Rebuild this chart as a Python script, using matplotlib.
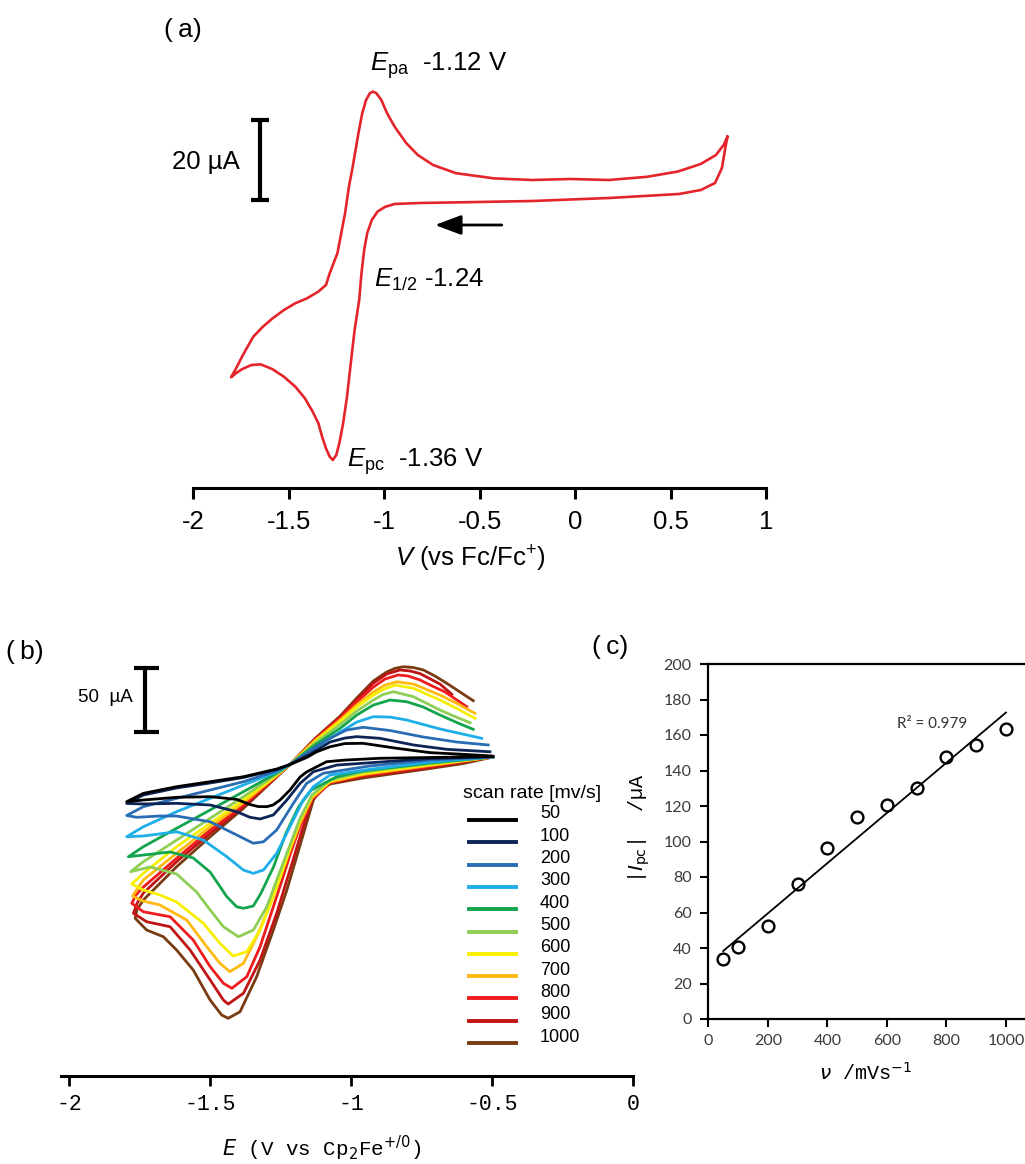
import numpy as np
import matplotlib
matplotlib.use("Agg")
import matplotlib.pyplot as plt
from matplotlib.lines import Line2D

plt.rcParams['font.family'] = ['Liberation Sans', 'DejaVu Sans']
plt.rcParams['mathtext.fontset'] = 'custom'
plt.rcParams['mathtext.rm'] = 'Liberation Sans'
plt.rcParams['mathtext.it'] = 'Liberation Sans:italic'
plt.rcParams['axes.unicode_minus'] = False

# ---------------- (a) single CV, V vs Fc/Fc+, current in uA ----------------
# cathodic sweep from +0.8 V down to -1.8 V, then back
cv_a_V = [0.798, 0.785, 0.769, 0.733, 0.659, 0.544, 0.178, -0.224, -0.624, -0.815,
          -0.945, -0.995, -1.035, -1.065, -1.089, -1.105, -1.119, -1.131, -1.155, -1.175,
          -1.195, -1.215, -1.235, -1.251, -1.269, -1.285, -1.305, -1.325, -1.345, -1.375,
          -1.415, -1.465, -1.525, -1.585, -1.646, -1.696, -1.745, -1.776, -1.802,
          -1.776, -1.745, -1.716, -1.686, -1.636, -1.585, -1.525, -1.465, -1.405, -1.345,
          -1.305, -1.285, -1.245, -1.225, -1.205, -1.185, -1.165, -1.135, -1.115, -1.095,
          -1.075, -1.059, -1.041, -1.015, -0.985, -0.945, -0.884, -0.824, -0.744, -0.624,
          -0.424, -0.224, -0.023, 0.177, 0.377, 0.537, 0.658, 0.738, 0.778, 0.798]
cv_a_I = [15.8, 12.5, 8.0, 4.25, 2.5, 1.5, 0.5, -0.25, -0.6, -0.75,
          -1.0, -1.7, -2.9, -5.0, -8.3, -12.5, -18.3, -25.0, -32.5, -40.8,
          -49.2, -55.8, -60.8, -63.75, -65.0, -64.2, -62.1, -59.2, -55.8, -52.9,
          -49.6, -46.7, -44.2, -42.3, -41.1, -41.25, -42.3, -43.3, -44.3,
          -42.1, -39.2, -36.7, -34.2, -31.7, -29.6, -27.5, -25.8, -24.6, -22.9,
          -21.25, -18.25, -13.3, -8.3, -3.3, 3.3, 8.3, 16.7, 21.7, 25.0,
          26.7, 27.1, 26.7, 25.0, 21.7, 18.3, 14.2, 11.25, 8.75, 6.7,
          5.4, 5.0, 5.25, 5.0, 5.8, 7.1, 9.0, 11.25, 13.75, 15.8]
a_ticks = [-2, -1.5, -1, -0.5, 0, 0.5, 1]

# ---------------- (b) CVs at several scan rates (V vs Cp2Fe, uA) ----------------
scan_rates = [50, 100, 200, 300, 400, 500, 600, 700, 800, 900, 1000]
scan_colors = ['#000000', '#0d2456', '#2a6db5', '#1eaee8', '#13a54e', '#8fce55',
               '#f7ef00', '#ffba12', '#ee1c1c', '#c01414', '#7a3a12']

E_050 = [-0.498, -0.721, -0.899, -1.023, -1.088, -1.123, -1.159, -1.182, -1.218, -1.253,
         -1.278, -1.300, -1.331, -1.360, -1.407, -1.501, -1.620, -1.738, -1.797,
         -1.738, -1.620, -1.501, -1.383, -1.265, -1.218, -1.159, -1.123, -1.076, -1.023,
         -0.959, -0.839, -0.721, -0.603, -0.502]
I_050 = [-3.5, -4.3, -4.9, -6.3, -7.6, -11.5, -15.6, -19.5, -29.7, -37.5,
         -41.4, -42.7, -42.6, -41.0, -37.0, -34.9, -35.4, -37.5, -38.8,
         -32.3, -27.1, -23.2, -19.3, -13.3, -9.8, -4.3, 0.2, 4.1, 6.6,
         6.8, 2.9, -0.5, -1.8, -3.1]

E_100 = [-0.498, -0.721, -0.934, -1.052, -1.135, -1.182, -1.229, -1.277, -1.324, -1.360,
         -1.407, -1.501, -1.620, -1.738, -1.797,
         -1.738, -1.620, -1.501, -1.383, -1.265, -1.218, -1.147, -1.076, -1.023, -0.981,
         -0.899, -0.780, -0.662, -0.509]
I_100 = [-3.7, -5.1, -8.4, -10.2, -15.4, -24.5, -37.5, -49.2, -52.3, -51.0,
         -46.6, -41.4, -40.1, -40.6, -40.2,
         -33.6, -28.1, -24.2, -19.9, -13.7, -9.8, -1.6, 7.8, 10.9, 12.0,
         10.7, 5.5, 2.1, 0.2]

E_200 = [-0.498, -0.721, -0.934, -1.100, -1.159, -1.206, -1.265, -1.312, -1.348, -1.407,
         -1.501, -1.620, -1.679, -1.761, -1.797,
         -1.738, -1.620, -1.501, -1.383, -1.265, -1.218, -1.159, -1.088, -1.017, -0.958,
         -0.863, -0.745, -0.627, -0.515]
I_200 = [-3.9, -6.3, -10.9, -16.6, -24.5, -40.1, -60.9, -70.1, -71.3, -64.8,
         -54.5, -50.0, -50.0, -51.0, -49.6,
         -42.7, -36.2, -29.7, -23.2, -14.8, -9.8, -0.8, 9.4, 17.2, 19.3,
         16.8, 11.7, 7.8, 5.5]

E_300 = [-0.498, -0.721, -0.934, -1.076, -1.135, -1.171, -1.218, -1.265, -1.312, -1.348,
         -1.383, -1.442, -1.525, -1.620, -1.738, -1.797,
         -1.738, -1.620, -1.501, -1.383, -1.265, -1.218, -1.123, -1.040, -0.981, -0.922,
         -0.863, -0.804, -0.686, -0.615, -0.538]
I_300 = [-3.9, -7.8, -13.5, -18.0, -27.1, -37.5, -58.4, -79.1, -92.2, -94.8,
         -92.2, -81.8, -68.8, -62.3, -65.6, -66.2,
         -58.4, -46.6, -36.2, -25.8, -15.6, -9.8, 3.9, 15.6, 23.4, 27.6,
         27.3, 25.0, 18.0, 14.5, 10.7]

E_400 = [-0.498, -0.721, -0.959, -1.052, -1.142, -1.187, -1.232, -1.276, -1.321, -1.348,
         -1.383, -1.407, -1.442, -1.501, -1.561, -1.643, -1.738, -1.791,
         -1.738, -1.620, -1.501, -1.383, -1.265, -1.218, -1.129, -1.040, -0.981, -0.922,
         -0.863, -0.804, -0.746, -0.686, -0.626, -0.568]
I_400 = [-3.9, -8.6, -14.8, -19.3, -29.7, -42.7, -63.3, -89.6, -110.4, -120.3,
         -122.1, -120.9, -113.0, -93.8, -82.8, -78.1, -80.5, -81.8,
         -74.0, -59.6, -45.3, -31.0, -16.4, -9.8, 5.5, 18.5, 28.9, 36.7,
         40.6, 39.3, 35.2, 28.9, 23.0, 17.7]

E_500 = [-0.498, -0.721, -0.959, -1.076, -1.140, -1.182, -1.218, -1.265, -1.300, -1.348,
         -1.401, -1.454, -1.501, -1.549, -1.620, -1.714, -1.783,
         -1.738, -1.620, -1.501, -1.383, -1.265, -1.218, -1.129, -1.040, -0.981, -0.922,
         -0.888, -0.851, -0.780, -0.686, -0.633, -0.579]
I_500 = [-3.9, -9.0, -15.6, -21.9, -33.6, -51.6, -72.7, -100.0, -120.9, -139.1,
         -144.3, -136.5, -123.4, -109.4, -95.3, -89.8, -93.5,
         -85.7, -68.8, -51.8, -34.9, -17.2, -9.8, 7.0, 21.5, 32.0, 40.6,
         44.9, 47.1, 43.2, 32.8, 27.7, 22.9]

E_600 = [-0.498, -0.721, -0.959, -1.076, -1.140, -1.182, -1.218, -1.253, -1.277, -1.324,
         -1.371, -1.419, -1.466, -1.525, -1.620, -1.679, -1.738, -1.779,
         -1.738, -1.620, -1.501, -1.383, -1.265, -1.218, -1.129, -1.040, -0.981, -0.922,
         -0.884, -0.845, -0.780, -0.686, -0.626, -0.562]
I_600 = [-3.9, -9.8, -16.8, -22.7, -34.4, -53.1, -75.0, -97.7, -113.0, -139.1,
         -156.0, -159.4, -149.5, -133.8, -117.2, -111.7, -107.8, -103.1,
         -94.8, -74.0, -55.7, -37.5, -18.0, -9.8, 8.2, 23.8, 35.2, 44.5,
         49.2, 52.3, 49.8, 40.6, 34.0, 26.3]

E_700 = [-0.498, -0.721, -0.959, -1.076, -1.140, -1.182, -1.218, -1.253, -1.296, -1.336,
         -1.383, -1.431, -1.466, -1.513, -1.584, -1.679, -1.739, -1.776,
         -1.738, -1.620, -1.501, -1.383, -1.265, -1.218, -1.129, -1.040, -0.981, -0.922,
         -0.881, -0.839, -0.780, -0.686, -0.626, -0.562]
I_700 = [-3.9, -10.5, -17.6, -23.4, -35.9, -55.5, -76.6, -98.4, -123.4, -144.3,
         -165.1, -171.6, -165.1, -152.1, -131.3, -119.5, -116.4, -112.5,
         -100.0, -79.1, -58.4, -39.6, -18.4, -9.8, 9.0, 25.0, 36.7, 46.9,
         52.3, 54.9, 53.1, 44.5, 37.9, 30.2]

E_800 = [-0.498, -0.721, -0.959, -1.076, -1.140, -1.182, -1.218, -1.246, -1.277, -1.324,
         -1.371, -1.424, -1.454, -1.501, -1.561, -1.643, -1.738, -1.779,
         -1.764, -1.738, -1.620, -1.501, -1.383, -1.265, -1.218, -1.129, -1.040, -0.981,
         -0.922, -0.881, -0.834, -0.799, -0.757, -0.714, -0.668, -0.591]
I_800 = [-3.9, -11.3, -18.4, -23.8, -36.7, -57.8, -80.5, -100.0, -120.9, -152.1,
         -175.5, -184.6, -180.7, -167.7, -146.9, -128.7, -124.8, -118.2,
         -111.7, -105.5, -83.0, -60.9, -41.4, -18.8, -9.8, 9.8, 26.6, 39.1,
         50.8, 57.0, 60.2, 59.4, 56.3, 51.6, 46.9, 35.4]

E_900 = [-0.498, -0.721, -0.959, -1.076, -1.140, -1.175, -1.207, -1.229, -1.265, -1.324,
         -1.383, -1.437, -1.454, -1.501, -1.572, -1.643, -1.726, -1.773,
         -1.760, -1.738, -1.620, -1.501, -1.383, -1.265, -1.218, -1.129, -1.040, -0.981,
         -0.922, -0.875, -0.828, -0.792, -0.757, -0.686, -0.644]
I_900 = [-3.9, -12.1, -19.1, -24.2, -37.5, -60.9, -84.4, -100.0, -126.0, -162.5,
         -188.5, -196.9, -193.8, -178.1, -154.7, -136.5, -132.6, -126.0,
         -118.0, -110.2, -85.7, -63.5, -42.7, -19.1, -9.8, 10.2, 27.3, 40.6,
         53.9, 60.9, 64.1, 63.3, 61.3, 53.1, 45.1]

E_1000 = [-0.498, -0.603, -0.721, -0.959, -1.076, -1.111, -1.135, -1.182, -1.229, -1.277,
          -1.336, -1.395, -1.437, -1.460, -1.501, -1.561, -1.620, -1.667, -1.726, -1.767,
          -1.761, -1.738, -1.620, -1.501, -1.383, -1.265, -1.218, -1.129, -1.040, -0.981,
          -0.922, -0.875, -0.845, -0.816, -0.780, -0.745, -0.704, -0.662, -0.615, -0.568]
I_1000 = [-3.9, -9.0, -12.9, -20.3, -25.0, -29.7, -37.5, -72.7, -107.8, -139.1,
          -175.5, -202.9, -208.0, -205.5, -193.8, -170.3, -154.7, -144.3, -139.1, -129.9,
          -123.4, -115.6, -89.6, -66.2, -44.0, -19.5, -9.8, 10.5, 28.1, 42.2,
          55.5, 62.5, 65.4, 66.6, 66.0, 64.1, 59.4, 53.7, 46.9, 40.1]

b_ticks = [-2, -1.5, -1, -0.5, 0]

# ---------------- (c) |Ipc| vs scan rate ----------------
rate_c = [50, 100, 200, 300, 400, 500, 600, 700, 800, 900, 1000]
ipc_c = [33.6, 40.4, 52.4, 76.1, 96.2, 113.6, 120.6, 130.3, 147.4, 154.6, 163.2]

W, H = 1025, 1164
fig = plt.figure(figsize=(W / 100, H / 100), dpi=100)


def fbox(left, top, right, bottom):
    return [left / W, 1 - bottom / H, (right - left) / W, (bottom - top) / H]


def fx(px):
    return px / W


def fy(py):
    return 1 - py / H


# ---------- panel (a) ----------
axa = fig.add_axes(fbox(193.3, 60, 766, 488))
axa.set_facecolor('none')
axa.plot(cv_a_V, cv_a_I, color='#e4242b', lw=1.9, solid_joinstyle='round')
axa.set_xlim(-2, 1)
axa.set_ylim(-72, 35)
for s in ['left', 'right', 'top']:
    axa.spines[s].set_visible(False)
axa.spines['bottom'].set_linewidth(2.2)
axa.set_yticks([])
axa.set_xticks(a_ticks)
axa.set_xticklabels([f'{t:g}' for t in a_ticks])
axa.tick_params(axis='x', length=8, width=2.2, labelsize=18.5, pad=8)

# 20 uA scale bar
axa.plot([-1.651, -1.651], [0, 20], color='black', lw=3, solid_capstyle='butt')
for yb in (0, 20):
    axa.plot([-1.696, -1.605], [yb, yb], color='black', lw=3, solid_capstyle='butt')
axa.text(-1.756, 9.5, '20 µA', ha='right', va='center', fontsize=18.5)
axa.annotate('', xy=(-0.734, -6.25), xytext=(-0.384, -6.25),
             arrowprops=dict(arrowstyle='-|>,head_length=0.8,head_width=0.3',
                             color='black', lw=2, mutation_scale=20,
                             shrinkA=0, shrinkB=0))
axa.text(-1.076, 32.25, r'$E_{\mathrm{pa}}$  -1.12 V', fontsize=18.5, va='baseline')
axa.text(-1.055, -21.75, r'$E_{\mathrm{1/2}}$ -1.24', fontsize=18.5, va='baseline')
axa.text(-1.195, -66.7, r'$E_{\mathrm{pc}}$  -1.36 V', fontsize=18.5, va='baseline')
fig.text(fx(470), fy(567), r'$V$ (vs Fc/Fc$^{+}$)', fontsize=18.5,
         ha='center', va='baseline')
fig.text(fx(183), fy(30), '(\u2009a)', fontsize=19, ha='center', va='center')

# ---------- panel (b) ----------
axb = fig.add_axes(fbox(61, 640, 633.4, 1076))
axb.set_facecolor('none')
curves_b = [(E_050, I_050), (E_100, I_100), (E_200, I_200), (E_300, I_300),
            (E_400, I_400), (E_500, I_500), (E_600, I_600), (E_700, I_700),
            (E_800, I_800), (E_900, I_900), (E_1000, I_1000)]
for (E, I), col in reversed(list(zip(curves_b, scan_colors))):
    axb.plot(E, I, color=col, lw=2.0, solid_joinstyle='round')
axb.set_xlim(-2.03, 0.0)
axb.set_ylim(-253.1, 87.5)
for s in ['left', 'right', 'top']:
    axb.spines[s].set_visible(False)
axb.spines['bottom'].set_linewidth(2.2)
axb.set_yticks([])
axb.set_xticks(b_ticks)
axb.set_xticklabels([f'{t:g}' for t in b_ticks], fontfamily='Liberation Mono')
axb.tick_params(axis='x', length=7, width=2.0, labelsize=15.5, pad=6)

# 50 uA scale bar
axb.plot([-1.732, -1.732], [15.6, 65.6], color='black', lw=3, solid_capstyle='butt')
for yb in (15.6, 65.6):
    axb.plot([-1.771, -1.682], [yb, yb], color='black', lw=3, solid_capstyle='butt')
axb.text(-1.774, 42.2, '50  µA', ha='right', va='center', fontsize=13.5)

fig.text(fx(322), fy(1148), r'$E$ (V vs Cp$_2$Fe$^{+/0}$)', fontsize=15,
         fontfamily='Liberation Mono', math_fontfamily='dejavusans',
         ha='center', va='center')
fig.text(fx(25), fy(652), '(\u2009b)', fontsize=19, ha='center', va='center')

# legend drawn by hand
fig.text(fx(463), fy(793), 'scan rate [mv/s]', fontsize=14, ha='left', va='center')
for i, (rate, col) in enumerate(zip(scan_rates, scan_colors)):
    yl = 820 + i * 22.3
    fig.add_artist(Line2D([fx(469), fx(516)], [fy(yl), fy(yl)], color=col, lw=2.8))
    fig.text(fx(540), fy(yl - 6), str(rate), fontsize=13, ha='left', va='center')

# ---------- panel (c) ----------
axc = fig.add_axes(fbox(708.3, 664, 1025, 1019))
axc.set_facecolor('none')
axc.plot(rate_c, ipc_c, 'o', mfc='none', mec='black', ms=8.5, mew=1.7, zorder=3)
fit = np.polyfit(rate_c, ipc_c, 1)
xf = np.array([min(rate_c), max(rate_c)])
axc.plot(xf, np.polyval(fit, xf), color='black', lw=1.3)
axc.set_xlim(0, 1064)
axc.set_ylim(0, 200)
axc.spines['right'].set_visible(False)
for s in ['left', 'bottom', 'top']:
    axc.spines[s].set_linewidth(1.6)
axc.set_xticks(range(0, 1001, 200))
axc.set_yticks(range(0, 201, 20))
axc.tick_params(axis='both', direction='out', length=6, width=1.5,
                labelsize=11.5, labelcolor='#3a3a3a')
axc.tick_params(axis='y', pad=6)
axc.tick_params(axis='x', pad=5)
for lab in axc.get_xticklabels() + axc.get_yticklabels():
    lab.set_fontfamily('Lato')
axc.text(751, 166, 'R² = 0.979', fontsize=11, fontfamily='Lato', color='#333333',
         ha='center', va='center')
fig.text(fx(639), fy(828), r'|$I_{\mathrm{pc}}$|  /µA', rotation=90, fontsize=14.5,
         fontfamily='Liberation Mono', math_fontfamily='dejavusans',
         ha='center', va='center')
fig.text(fx(866), fy(1073), r'$\nu$ /mVs$^{-1}$', fontsize=14.5,
         fontfamily='Liberation Mono', math_fontfamily='dejavusans',
         ha='center', va='center')
fig.text(fx(610), fy(647), '(\u2009c)', fontsize=19, ha='center', va='center')

fig.savefig('out.png', dpi=100)
